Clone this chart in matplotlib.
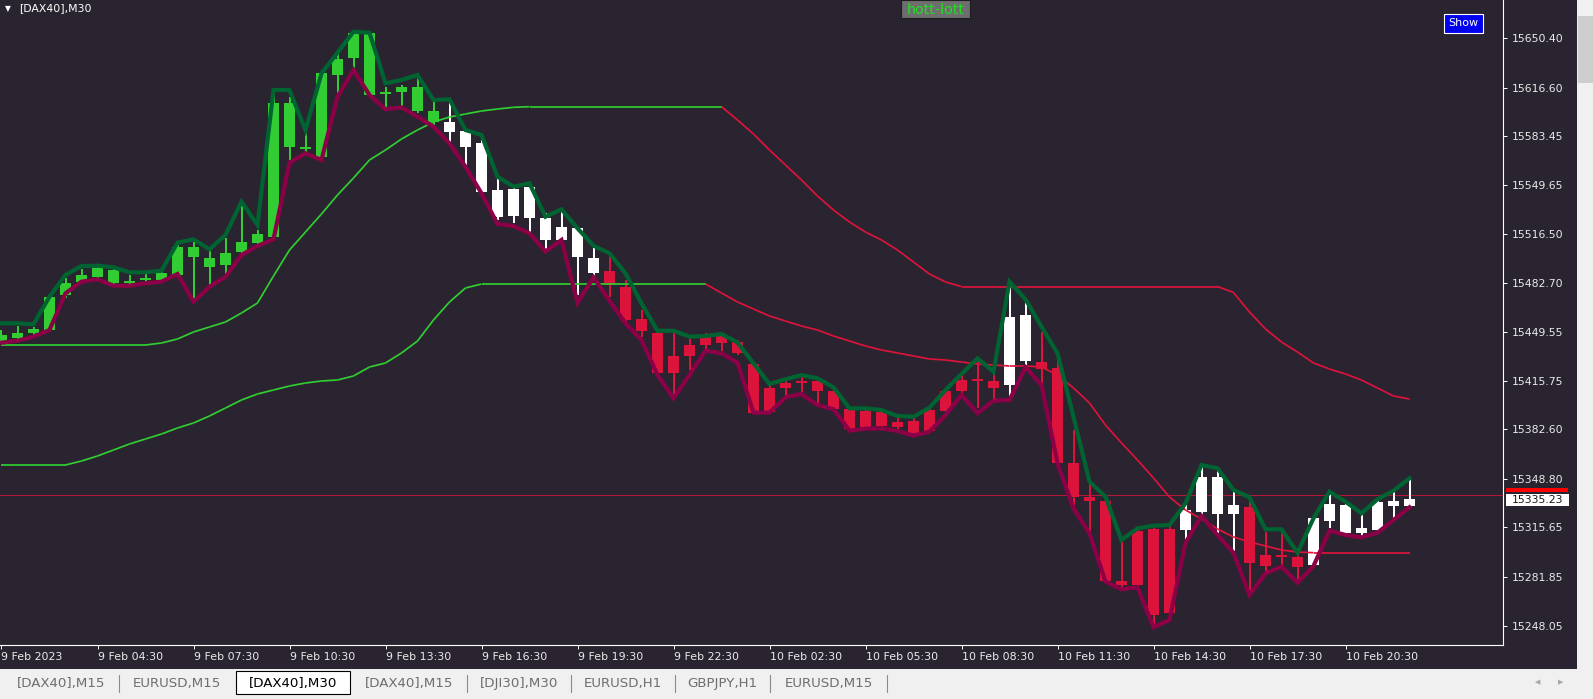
import matplotlib
matplotlib.use("Agg")
import matplotlib.pyplot as plt
from matplotlib.collections import LineCollection
from matplotlib.patches import Rectangle

# DAX40 M30 candles (9-10 Feb 2023)
opens = [15442.69, 15445.02, 15448.85, 15450.70, 15474.66, 15483.77, 15487.19, 15482.67, 15482.88, 15484.93,
         15484.93, 15488.35, 15500.47, 15494.04, 15495.20, 15504.31, 15510.47, 15514.17, 15575.78, 15574.61,
         15569.34, 15625.27, 15636.71, 15611.58, 15612.27, 15613.84, 15600.84, 15593.30, 15586.46, 15576.19,
         15545.38, 15528.27, 15528.75, 15527.17, 15512.32, 15512.32, 15500.88, 15489.93, 15491.09, 15480.35,
         15458.03, 15448.44, 15432.90, 15440.43, 15446.12, 15446.59, 15442.28, 15427.43, 15411.20, 15414.62,
         15415.99, 15415.99, 15409.15, 15396.41, 15395.25, 15394.77, 15387.51, 15388.40, 15395.93, 15408.94,
         15416.47, 15417.36, 15415.99, 15413.05, 15429.68, 15428.59, 15424.48, 15359.44, 15336.58, 15333.84,
         15278.87, 15313.30, 15314.26, 15314.26, 15313.78, 15326.31, 15324.74, 15324.74, 15329.73, 15296.67,
         15296.67, 15295.50, 15289.82, 15320.15, 15311.52, 15311.93, 15313.78, 15330.21, 15330.21]
highs = [15450.70, 15453.44, 15452.55, 15475.35, 15486.10, 15492.26, 15494.52, 15493.15, 15488.35, 15489.04,
         15490.61, 15508.89, 15511.15, 15505.47, 15513.48, 15538.54, 15519.16, 15615.01, 15610.42, 15585.36,
         15628.70, 15640.13, 15656.08, 15655.40, 15617.27, 15618.43, 15625.27, 15607.00, 15607.00, 15587.62,
         15581.94, 15554.56, 15548.81, 15551.13, 15530.59, 15532.38, 15521.42, 15506.63, 15502.05, 15484.93,
         15464.39, 15449.54, 15448.44, 15444.34, 15448.44, 15448.44, 15443.86, 15428.79, 15413.05, 15416.47,
         15418.32, 15416.47, 15411.89, 15397.10, 15395.93, 15396.41, 15390.94, 15391.35, 15397.10, 15410.11,
         15421.06, 15430.16, 15421.06, 15482.67, 15468.98, 15449.54, 15432.42, 15382.24, 15345.75, 15335.48,
         15306.94, 15314.95, 15316.73, 15316.04, 15332.06, 15358.28, 15356.02, 15341.17, 15336.17, 15312.62,
         15311.52, 15297.83, 15323.37, 15340.00, 15333.16, 15325.21, 15334.80, 15340.69, 15349.17]
lows = [15441.80, 15443.86, 15447.28, 15449.33, 15472.61, 15482.67, 15486.30, 15481.51, 15482.19, 15483.77,
        15483.77, 15487.19, 15470.08, 15480.35, 15486.10, 15502.05, 15507.73, 15512.32, 15567.08, 15571.67,
        15568.45, 15612.75, 15628.70, 15610.21, 15602.48, 15601.31, 15599.06, 15589.88, 15579.61, 15562.50,
        15544.49, 15526.01, 15523.75, 15518.00, 15505.47, 15511.15, 15474.66, 15487.19, 15473.50, 15456.18,
        15446.12, 15419.89, 15406.20, 15423.32, 15437.01, 15436.53, 15433.59, 15393.88, 15393.88, 15405.04,
        15406.89, 15400.52, 15395.93, 15382.24, 15383.41, 15384.50, 15381.76, 15378.82, 15381.08, 15394.77,
        15405.04, 15397.10, 15402.78, 15404.63, 15426.74, 15411.89, 15358.28, 15329.73, 15311.52, 15278.18,
        15273.87, 15274.76, 15248.74, 15255.59, 15306.94, 15324.05, 15311.52, 15298.93, 15269.28, 15284.14,
        15289.82, 15279.55, 15289.14, 15314.95, 15311.04, 15309.20, 15313.10, 15320.63, 15329.73]
closes = [15447.28, 15448.44, 15451.18, 15473.50, 15482.67, 15488.35, 15492.94, 15491.78, 15484.25, 15486.51,
          15489.52, 15507.73, 15507.73, 15499.79, 15503.21, 15510.74, 15516.42, 15606.31, 15606.31, 15575.50,
          15626.44, 15636.02, 15653.82, 15653.82, 15613.84, 15616.85, 15617.27, 15600.84, 15593.30, 15586.94,
          15578.52, 15546.55, 15547.03, 15548.40, 15527.17, 15521.42, 15520.33, 15499.79, 15481.51, 15457.55,
          15450.22, 15421.06, 15421.47, 15432.90, 15440.43, 15441.60, 15434.75, 15394.09, 15394.77, 15411.20,
          15414.62, 15408.94, 15396.62, 15382.93, 15384.09, 15384.98, 15384.50, 15379.98, 15381.76, 15395.46,
          15409.15, 15415.58, 15411.20, 15459.81, 15460.97, 15423.80, 15359.86, 15336.17, 15333.84, 15279.07,
          15276.13, 15276.13, 15255.59, 15256.76, 15327.47, 15350.27, 15350.27, 15330.90, 15290.98, 15289.14,
          15295.30, 15288.66, 15321.79, 15331.58, 15330.90, 15314.95, 15333.16, 15333.84, 15335.23]
# trend state of each candle: g = up (green), w = neutral (white), r = down (red)
candle_trend = list("gggggggggggggggggggggggggggg"
                    "wwwwwwwwww"
                    "rrrrrrrrrrrrrrrrrrrrrrrrr"
                    "ww"
                    "rrrrrrrrr"
                    "wwww"
                    "rrrr"
                    "wwwwwww")

# hott-lott indicator
hott = [15455.29, 15455.29, 15454.60, 15473.50, 15488.35, 15494.52, 15494.72, 15493.63, 15490.20, 15490.20,
        15491.30, 15510.47, 15512.80, 15505.95, 15515.74, 15538.54, 15522.58, 15615.01, 15615.01, 15587.62,
        15626.44, 15640.54, 15654.92, 15654.23, 15619.59, 15621.85, 15625.27, 15608.16, 15608.64, 15587.62,
        15584.20, 15555.65, 15548.81, 15551.13, 15528.27, 15533.33, 15520.33, 15508.42, 15503.21, 15489.52,
        15468.98, 15450.22, 15450.22, 15446.12, 15446.59, 15447.96, 15442.14, 15427.90, 15413.73, 15416.95,
        15419.89, 15417.63, 15411.47, 15397.10, 15397.10, 15395.93, 15391.83, 15391.35, 15397.51, 15409.63,
        15420.58, 15431.33, 15422.15, 15483.77, 15471.72, 15452.96, 15434.75, 15391.35, 15346.85, 15336.58,
        15306.94, 15314.95, 15316.73, 15317.20, 15332.06, 15358.28, 15356.02, 15341.17, 15336.17, 15314.26,
        15314.26, 15298.24, 15321.79, 15340.00, 15333.16, 15325.21, 15334.80, 15340.69, 15349.17]
lott = [15442.01, 15443.38, 15446.12, 15450.70, 15475.83, 15483.77, 15485.41, 15481.03, 15481.03, 15482.67,
        15483.77, 15489.04, 15470.08, 15480.35, 15487.19, 15502.05, 15508.21, 15512.80, 15565.24, 15571.67,
        15567.08, 15610.42, 15628.70, 15611.58, 15601.79, 15603.16, 15596.73, 15589.88, 15578.52, 15562.50,
        15544.29, 15523.27, 15521.90, 15516.90, 15504.44, 15512.32, 15469.39, 15486.78, 15470.76, 15455.29,
        15443.86, 15419.89, 15403.94, 15419.89, 15436.53, 15434.75, 15428.32, 15394.09, 15394.09, 15404.63,
        15406.89, 15399.36, 15396.41, 15381.76, 15383.13, 15383.41, 15381.56, 15378.34, 15381.08, 15392.51,
        15406.20, 15393.67, 15402.30, 15402.78, 15425.17, 15413.05, 15359.44, 15328.64, 15311.52, 15278.39,
        15273.19, 15274.56, 15247.17, 15252.17, 15305.09, 15323.37, 15310.36, 15298.24, 15269.28, 15284.14,
        15288.66, 15277.71, 15289.14, 15313.30, 15310.36, 15308.78, 15311.93, 15320.63, 15329.32]

# slow envelope lines
band_upper = [15440.43, 15440.43, 15440.43, 15440.43, 15440.43, 15440.43, 15440.43, 15440.43, 15440.43, 15440.43,
              15441.80, 15444.54, 15449.33, 15452.76, 15456.18, 15462.34, 15469.19, 15487.67, 15505.47, 15517.79,
              15530.12, 15543.12, 15554.76, 15567.08, 15573.93, 15581.46, 15587.62, 15593.10, 15596.52, 15598.58,
              15600.63, 15602.00, 15603.16, 15603.57, 15603.57, 15603.57, 15603.57, 15603.57, 15603.57, 15603.57,
              15603.57, 15603.57, 15603.57, 15603.57, 15603.57, 15603.57, 15594.47, 15584.88, 15573.93, 15563.66,
              15553.39, 15542.44, 15532.85, 15524.64, 15517.79, 15512.32, 15505.47, 15497.25, 15489.04, 15483.56,
              15480.48, 15480.48, 15480.48, 15480.48, 15480.48, 15480.48, 15480.48, 15480.48, 15480.48, 15480.48,
              15480.48, 15480.48, 15480.48, 15480.48, 15480.48, 15480.48, 15480.48, 15476.37, 15463.02, 15451.39,
              15442.49, 15435.64, 15428.11, 15424.00, 15420.58, 15416.47, 15411.00, 15405.52, 15403.46]
band_lower = [15358.28, 15358.28, 15358.28, 15358.28, 15358.28, 15361.02, 15364.44, 15368.55, 15372.66, 15376.08,
              15379.50, 15383.61, 15387.03, 15391.83, 15397.30, 15402.78, 15406.89, 15409.63, 15412.36, 15414.42,
              15415.79, 15416.47, 15419.21, 15425.37, 15428.11, 15434.96, 15443.17, 15457.55, 15469.87, 15479.46,
              15482.19, 15482.19, 15482.19, 15482.19, 15482.19, 15482.19, 15482.19, 15482.19, 15482.19, 15482.19,
              15482.19, 15482.19, 15482.19, 15482.19, 15482.19, 15476.03, 15469.87, 15465.08, 15460.29, 15456.86,
              15453.44, 15450.70, 15446.59, 15443.17, 15439.75, 15437.01, 15434.96, 15432.90, 15430.85, 15430.16,
              15428.79, 15427.43, 15426.74, 15426.06, 15426.06, 15425.37, 15419.89, 15411.00, 15400.73, 15385.66,
              15373.34, 15361.70, 15349.38, 15336.37, 15327.47, 15321.31, 15314.47, 15308.99, 15305.57, 15302.83,
              15300.09, 15298.72, 15298.24, 15298.24, 15298.24, 15298.24, 15298.24, 15298.24, 15298.24]

last_price = 15335.23
price_ticks = [15650.40, 15616.60, 15583.45, 15549.65, 15516.50, 15482.70, 15449.55,
               15415.75, 15382.60, 15348.80, 15315.65, 15281.85, 15248.05]
time_labels = ["9 Feb 2023", "9 Feb 04:30", "9 Feb 07:30", "9 Feb 10:30", "9 Feb 13:30",
               "9 Feb 16:30", "9 Feb 19:30", "9 Feb 22:30", "10 Feb 02:30", "10 Feb 05:30",
               "10 Feb 08:30", "10 Feb 11:30", "10 Feb 14:30", "10 Feb 17:30", "10 Feb 20:30"]
label_every = 6
tab_names = ["[DAX40],M15", "EURUSD,M15", "[DAX40],M30", "[DAX40],M15",
             "[DJI30],M30", "EURUSD,H1", "GBPJPY,H1", "EURUSD,M15"]
active_tab = 2

BG = "#29242F"
GREEN = "#32CD32"
RED = "#DC143C"
W, H = 1593, 699

fig = plt.figure(figsize=(W / 100, H / 100), dpi=100, facecolor=BG)


def px_rect(x0, y0, x1, y1, **kw):
    fig.add_artist(Rectangle((x0 / W, 1 - y1 / H), (x1 - x0) / W, (y1 - y0) / H,
                             transform=fig.transFigure, **kw))


def px_text(x, y, s, **kw):
    fig.text(x / W, 1 - y / H, s, **kw)


ax = fig.add_axes([0, 1 - 645 / H, 1503 / W, 645 / H])
ax.set_facecolor(BG)

n = len(closes)
xs = list(range(n))
colour_of = {"g": GREEN, "w": "#FFFFFF", "r": RED}
cols = [colour_of[t] for t in candle_trend]

# candles
ax.vlines(xs, lows, highs, colors=cols, lw=1.45, zorder=2)
bottoms = [min(o, c) for o, c in zip(opens, closes)]
heights = [max(abs(c - o), 1.4) for o, c in zip(opens, closes)]
ax.bar(xs, heights, bottom=bottoms, width=0.69, color=cols, lw=0, zorder=2.1)

# bid line sits a few pixels above the label in the terminal
ax.axhline(last_price + 2.5, color=RED, lw=0.7, alpha=0.8, zorder=1)


def trend_segments(vals):
    segs, seg_cols = [], []
    state = GREEN
    for i in range(len(vals) - 1):
        if vals[i + 1] > vals[i]:
            state = GREEN
        elif vals[i + 1] < vals[i]:
            state = RED
        segs.append([(i, vals[i]), (i + 1, vals[i + 1])])
        seg_cols.append(state)
    return segs, seg_cols


for band in (band_upper, band_lower):
    segs, seg_cols = trend_segments(band)
    ax.add_collection(LineCollection(segs, colors=seg_cols, lw=1.25, zorder=3))

ax.plot(xs, hott, color="#006432", lw=3.0, zorder=4, solid_joinstyle="miter")
ax.plot(xs, lott, color="#8C0047", lw=3.0, zorder=4, solid_joinstyle="miter")

ax.set_xlim(-1.5 / 16, (1503 - 1.5) / 16)
ax.set_ylim(15235.05, 15676.62)

for side in ("top", "left"):
    ax.spines[side].set_visible(False)
for side in ("right", "bottom"):
    ax.spines[side].set_color("white")
    ax.spines[side].set_linewidth(0.8)

ax.yaxis.tick_right()
ax.set_yticks(price_ticks, labels=[f"{v:.2f}" for v in price_ticks])
ax.tick_params(axis="y", colors="white", labelcolor="#EAEAEA", length=3, width=0.7,
               pad=3, labelsize=7.8)
ax.set_xticks(list(range(0, n, label_every)), labels=time_labels, ha="left")
ax.tick_params(axis="x", colors="white", labelcolor="#EAEAEA", length=3, width=0.7,
               pad=2, labelsize=7.9)

# chart window decorations
px_text(5, 8.5, "\u25bc", fontsize=5.5, color="white", va="center")
px_text(19, 8.5, "[DAX40],M30", fontsize=7.8, color="white", va="center")

px_rect(901, 0, 970, 18, facecolor="#6E6E6E", edgecolor="#1E1E1E", lw=0.8)
px_text(935.5, 9.5, "hott-lott", fontsize=10.3, color="#1EE11E", ha="center", va="center")

px_rect(1444, 14, 1483, 33, facecolor="#0000F0", edgecolor="white", lw=0.8)
px_text(1463.5, 23.5, "Show", fontsize=8, color="white", ha="center", va="center")

# bid / ask labels on the price scale
px_rect(1506, 488, 1568, 492, facecolor="#FF0000", edgecolor="none")
px_rect(1506, 494, 1569, 506, facecolor="white", edgecolor="none")
px_text(1512, 500, f"{last_price:.2f}", fontsize=7.8, color="#1A1A1A", va="center")

# scrollbar
px_rect(1577, 0, 1593, 669, facecolor="#F0F0F0", edgecolor="none")
px_rect(1578, 16, 1593, 83, facecolor="#CDCDCD", edgecolor="none")

# tab bar
px_rect(0, 669, 1593, 699, facecolor="#F0F0F0", edgecolor="none")
tab_centres = [61, 177, 293, 409, 519, 623, 722, 828.5]
px_rect(236, 671, 350, 694, facecolor="white", edgecolor="black", lw=0.8)
for i, (name, cx) in enumerate(zip(tab_names, tab_centres)):
    px_text(cx, 683, name, fontsize=9.6, ha="center", va="center",
            color="black" if i == active_tab else "#6E6E6E")
for sx in (119, 467, 571, 675, 770, 887):
    fig.add_artist(plt.Line2D([sx / W, sx / W], [1 - 675 / H, 1 - 692 / H],
                              transform=fig.transFigure, color="#8A8A8A", lw=0.8))
px_text(1538, 682, "\u25c0", fontsize=5, color="#A8A8A8", ha="center", va="center")
px_text(1561, 682, "\u25b6", fontsize=5, color="#A8A8A8", ha="center", va="center")

fig.savefig("out.png", dpi=100, facecolor=fig.get_facecolor())
